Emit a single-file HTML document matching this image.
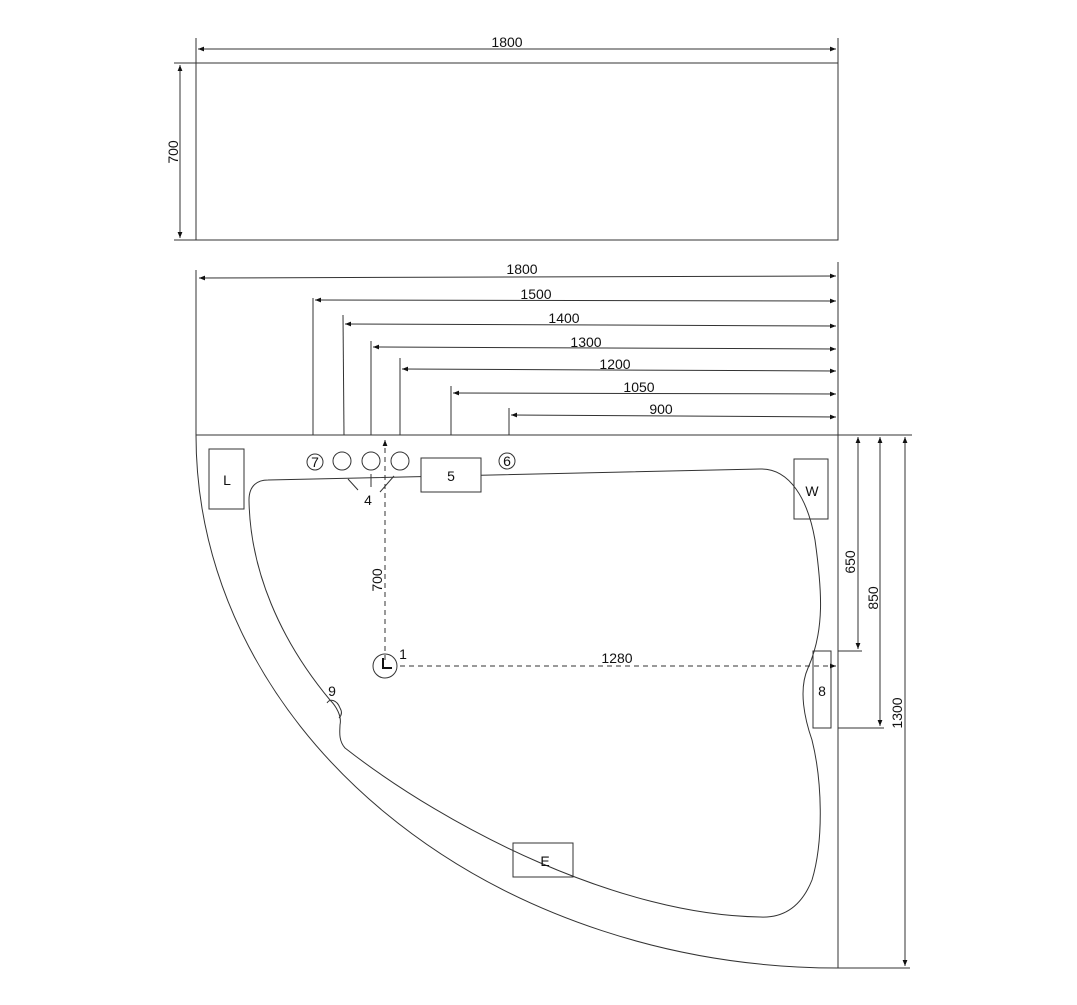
<!DOCTYPE html>
<html><head><style>
html,body{margin:0;padding:0;background:#fff}
svg text{font-family:"Liberation Sans",sans-serif;font-size:14px;fill:#111}
</style></head><body>
<svg width="1077" height="1000" viewBox="0 0 1077 1000" xmlns="http://www.w3.org/2000/svg">
<defs>
<marker id="a" viewBox="0 0 10 10" refX="10" refY="5" markerWidth="9" markerHeight="6" orient="auto-start-reverse"><path d="M0,1 L10,5 L0,9 Z" fill="#111"/></marker>
</defs>
<g stroke="#333" stroke-width="1" fill="none">
<rect x="196" y="63" width="642" height="177"/>
<line x1="196" y1="38" x2="196" y2="63"/><line x1="838" y1="38" x2="838" y2="63"/>
<line x1="198" y1="49" x2="836" y2="49" marker-start="url(#a)" marker-end="url(#a)"/>
<line x1="174" y1="63" x2="196" y2="63"/><line x1="174" y1="240" x2="196" y2="240"/>
<line x1="180" y1="65" x2="180" y2="238" marker-start="url(#a)" marker-end="url(#a)"/>
<line x1="196" y1="270" x2="196" y2="435"/>
<line x1="838" y1="262" x2="838" y2="968"/>
<line x1="196" y1="435" x2="912" y2="435"/>
<path d="M196,435 A642,533 0 0 0 838,968"/>
<line x1="199" y1="278" x2="836" y2="276" marker-start="url(#a)" marker-end="url(#a)"/>
<line x1="313" y1="298" x2="313" y2="435"/>
<line x1="315" y1="300" x2="836" y2="301" marker-start="url(#a)" marker-end="url(#a)"/>
<line x1="343" y1="315" x2="344" y2="435"/>
<line x1="345" y1="324" x2="836" y2="326" marker-start="url(#a)" marker-end="url(#a)"/>
<line x1="371" y1="341" x2="371" y2="435"/>
<line x1="373" y1="347" x2="836" y2="349" marker-start="url(#a)" marker-end="url(#a)"/>
<line x1="400" y1="358" x2="400" y2="435"/>
<line x1="402" y1="369" x2="836" y2="371" marker-start="url(#a)" marker-end="url(#a)"/>
<line x1="451" y1="386" x2="451" y2="435"/>
<line x1="453" y1="393" x2="836" y2="394" marker-start="url(#a)" marker-end="url(#a)"/>
<line x1="509" y1="408" x2="509" y2="435"/>
<line x1="511" y1="415" x2="836" y2="417" marker-start="url(#a)" marker-end="url(#a)"/>
<path d="M268,480 L760,469 C790,468 808,500 815,540 C822,590 825,630 808,668 C798,690 805,720 812,740 C822,780 824,840 812,880 C800,910 780,918 760,917 C620,915 450,830 345,748 C338,740 340,730 340,725 C342,716 336,706 330,700 C280,640 250,570 249,500 C249,485 258,480 268,480 Z"/>
<path d="M327,703 C330,698 337,700 340,708 C343,713 341,716 339,718"/>
<rect x="209" y="449" width="35" height="60" fill="#fff"/>
<rect x="421" y="458" width="60" height="34" fill="#fff"/>
<rect x="794" y="459" width="34" height="60" fill="none"/>
<rect x="813" y="651" width="18" height="77" fill="none"/>
<rect x="513" y="843" width="60" height="34" fill="none"/>
<circle cx="315" cy="462" r="8"/>
<circle cx="342" cy="461" r="9"/><circle cx="371" cy="461" r="9"/><circle cx="400" cy="461" r="9"/>
<circle cx="507" cy="461" r="8"/>
<line x1="348" y1="479" x2="358" y2="490"/><line x1="371" y1="474" x2="371" y2="487"/><line x1="394" y1="476" x2="380" y2="492"/>
<line x1="385" y1="660" x2="385" y2="440" stroke-dasharray="5,4" marker-end="url(#a)"/>
<line x1="400" y1="666" x2="836" y2="666" stroke-dasharray="5,4" marker-end="url(#a)"/>
<circle cx="385" cy="666" r="12"/>
<path d="M383,658 L383,668 L392,668" stroke="#111" stroke-width="2"/>
<line x1="838" y1="651" x2="862" y2="651"/>
<line x1="838" y1="728" x2="884" y2="728"/>
<line x1="838" y1="968" x2="910" y2="968"/>
<line x1="858" y1="437" x2="858" y2="649" marker-start="url(#a)" marker-end="url(#a)"/>
<line x1="880" y1="437" x2="880" y2="726" marker-start="url(#a)" marker-end="url(#a)"/>
<line x1="905" y1="437" x2="905" y2="966" marker-start="url(#a)" marker-end="url(#a)"/>
</g>
<text x="507" y="47" text-anchor="middle">1800</text>
<text transform="translate(178,152) rotate(-90)" text-anchor="middle">700</text>
<text x="522" y="274" text-anchor="middle">1800</text>
<text x="536" y="299" text-anchor="middle">1500</text>
<text x="564" y="323" text-anchor="middle">1400</text>
<text x="586" y="347" text-anchor="middle">1300</text>
<text x="615" y="369" text-anchor="middle">1200</text>
<text x="639" y="392" text-anchor="middle">1050</text>
<text x="661" y="414" text-anchor="middle">900</text>
<text x="227" y="485" text-anchor="middle">L</text>
<text x="451" y="481" text-anchor="middle">5</text>
<text x="812" y="496" text-anchor="middle">W</text>
<text x="822" y="696" text-anchor="middle">8</text>
<text x="545" y="866" text-anchor="middle">E</text>
<text x="315" y="467" text-anchor="middle" font-size="13">7</text>
<text x="507" y="466" text-anchor="middle" font-size="13">6</text>
<text x="368" y="505" text-anchor="middle">4</text>
<text x="403" y="659" text-anchor="middle">1</text>
<text x="332" y="696" text-anchor="middle">9</text>
<text transform="translate(382,580) rotate(-90)" text-anchor="middle">700</text>
<text x="617" y="663" text-anchor="middle">1280</text>
<text transform="translate(855,562) rotate(-90)" text-anchor="middle">650</text>
<text transform="translate(878,598) rotate(-90)" text-anchor="middle">850</text>
<text transform="translate(902,713) rotate(-90)" text-anchor="middle">1300</text>
</svg>
</body></html>
